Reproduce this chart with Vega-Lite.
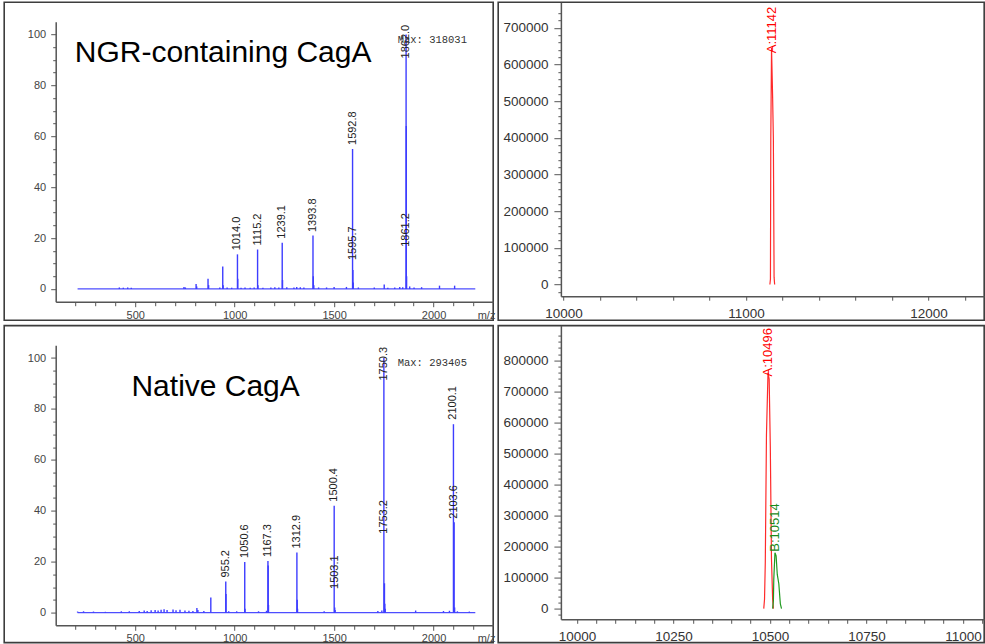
{
  "$schema": "https://vega.github.io/schema/vega-lite/v6.json",
  "background": "white",
  "padding": {"left": 3.2, "top": 1.2, "right": 0, "bottom": 0},
  "config": {
    "view": {"stroke": "#3d3d3d", "strokeWidth": 1.6},
    "axis": {"grid": false, "labelFont": "Liberation Sans", "titleFont": "Liberation Sans", "labelFlush": false, "labelOverlap": false, "domainColor": "#555555", "tickColor": "#555555", "domainWidth": 1.5, "tickWidth": 1},
    "text": {"font": "Liberation Sans"}
  },
  "datasets": {
    "ngr_base": [{"mz": 210, "mz2": 2210, "int": 0}],
    "ngr_peaks": [
      {"mz": 420, "int": 0.6}, {"mz": 440, "int": 0.5}, {"mz": 462, "int": 0.6}, {"mz": 480, "int": 0.5},
      {"mz": 745, "int": 0.8}, {"mz": 752, "int": 0.6}, {"mz": 806, "int": 2}, {"mz": 809, "int": 1},
      {"mz": 866, "int": 4}, {"mz": 869, "int": 1.5}, {"mz": 925, "int": 0.6}, {"mz": 940, "int": 8.8},
      {"mz": 942, "int": 1.5}, {"mz": 962, "int": 0.6}, {"mz": 985, "int": 0.5}, {"mz": 1014.0, "int": 13.6},
      {"mz": 1015.5, "int": 4}, {"mz": 1032, "int": 0.5}, {"mz": 1052, "int": 0.6}, {"mz": 1078, "int": 0.5},
      {"mz": 1098, "int": 0.6}, {"mz": 1115.2, "int": 15.5}, {"mz": 1117, "int": 1.5}, {"mz": 1142, "int": 0.5},
      {"mz": 1182, "int": 0.6}, {"mz": 1202, "int": 0.7}, {"mz": 1222, "int": 0.6}, {"mz": 1239.1, "int": 18.2},
      {"mz": 1240.6, "int": 3.5}, {"mz": 1262, "int": 0.7}, {"mz": 1298, "int": 0.6}, {"mz": 1312, "int": 0.8},
      {"mz": 1330, "int": 0.7}, {"mz": 1348, "int": 0.6}, {"mz": 1393.8, "int": 21}, {"mz": 1395.5, "int": 5},
      {"mz": 1398, "int": 1.5}, {"mz": 1422, "int": 0.6}, {"mz": 1462, "int": 0.6}, {"mz": 1500, "int": 0.8},
      {"mz": 1562, "int": 0.8}, {"mz": 1592.8, "int": 55}, {"mz": 1594.5, "int": 7.5}, {"mz": 1596, "int": 2.5},
      {"mz": 1622, "int": 0.6}, {"mz": 1702, "int": 0.6}, {"mz": 1752, "int": 1.8}, {"mz": 1770, "int": 0.5},
      {"mz": 1805, "int": 0.6}, {"mz": 1830, "int": 0.8}, {"mz": 1845, "int": 0.7}, {"mz": 1862.0, "int": 100},
      {"mz": 1863, "int": 64}, {"mz": 1864.5, "int": 5}, {"mz": 1880, "int": 1}, {"mz": 1902, "int": 0.6},
      {"mz": 1940, "int": 0.7}, {"mz": 2030, "int": 1.3}, {"mz": 2106, "int": 1.3}
    ],
    "ngr_labels": [
      {"mz": 1014.0, "int": 13.6, "text": "1014.0"},
      {"mz": 1115.2, "int": 15.5, "text": "1115.2"},
      {"mz": 1239.1, "int": 18.2, "text": "1239.1"},
      {"mz": 1393.8, "int": 20.8, "text": "1393.8"},
      {"mz": 1592.8, "int": 55, "text": "1592.8"},
      {"mz": 1595.7, "int": 9.8, "text": "1595.7"},
      {"mz": 1862.0, "int": 89, "text": "1862.0"},
      {"mz": 1861.2, "int": 15, "text": "1861.2"}
    ],
    "ngr_title": [{"mz": 196, "int": 89.1, "text": "NGR-containing CagA"}],
    "ngr_max": [{"mz": 1820, "int": 98, "text": "Max: 318031"}],
    "ngr_deconv": [
      {"mz": 11131, "int": 0}, {"mz": 11134, "int": 15000}, {"mz": 11136, "int": 400000},
      {"mz": 11140, "int": 645000}, {"mz": 11146, "int": 510000}, {"mz": 11150, "int": 400000},
      {"mz": 11154, "int": 20000}, {"mz": 11157, "int": 0}
    ],
    "ngr_deconv_labels": [{"mz": 11142, "int": 628000, "text": "A:11142"}],
    "nat_base": [{"mz": 210, "mz2": 2210, "int": 0}],
    "nat_peaks": [
      {"mz": 210, "int": 0.4}, {"mz": 240, "int": 0.5}, {"mz": 290, "int": 0.4}, {"mz": 350, "int": 0.3},
      {"mz": 430, "int": 0.5}, {"mz": 470, "int": 0.5}, {"mz": 520, "int": 0.6}, {"mz": 545, "int": 0.8},
      {"mz": 560, "int": 0.6}, {"mz": 580, "int": 0.9}, {"mz": 600, "int": 1}, {"mz": 615, "int": 0.8},
      {"mz": 630, "int": 1.1}, {"mz": 645, "int": 1.3}, {"mz": 660, "int": 1}, {"mz": 690, "int": 1.2},
      {"mz": 705, "int": 0.9}, {"mz": 725, "int": 1.1}, {"mz": 750, "int": 0.8}, {"mz": 770, "int": 0.7},
      {"mz": 790, "int": 0.6}, {"mz": 810, "int": 1.8}, {"mz": 815, "int": 1}, {"mz": 845, "int": 0.6},
      {"mz": 880, "int": 5.9}, {"mz": 955.2, "int": 12.2}, {"mz": 956.5, "int": 7.3}, {"mz": 970, "int": 0.5},
      {"mz": 1010, "int": 0.5}, {"mz": 1050.6, "int": 19.9}, {"mz": 1052, "int": 1.5}, {"mz": 1120, "int": 0.5},
      {"mz": 1160, "int": 0.7}, {"mz": 1167.3, "int": 20.3}, {"mz": 1168.5, "int": 18.5}, {"mz": 1170, "int": 3},
      {"mz": 1312.9, "int": 23.6}, {"mz": 1314.5, "int": 5}, {"mz": 1316, "int": 1.5}, {"mz": 1450, "int": 0.5},
      {"mz": 1500.4, "int": 42}, {"mz": 1503.1, "int": 2}, {"mz": 1505, "int": 1}, {"mz": 1720, "int": 0.6},
      {"mz": 1740, "int": 0.8}, {"mz": 1750.3, "int": 100}, {"mz": 1753.2, "int": 11.5}, {"mz": 1755, "int": 3.5},
      {"mz": 1757, "int": 1.5}, {"mz": 1910, "int": 0.8}, {"mz": 2050, "int": 0.6}, {"mz": 2080, "int": 0.7},
      {"mz": 2100.1, "int": 74}, {"mz": 2103.6, "int": 35.5}, {"mz": 2106, "int": 2}, {"mz": 2120, "int": 0.5},
      {"mz": 2180, "int": 0.4}
    ],
    "nat_labels": [
      {"mz": 955.2, "int": 12.2, "text": "955.2"},
      {"mz": 1050.6, "int": 19.9, "text": "1050.6"},
      {"mz": 1167.3, "int": 20.3, "text": "1167.3"},
      {"mz": 1312.9, "int": 23.6, "text": "1312.9"},
      {"mz": 1500.4, "int": 42, "text": "1500.4"},
      {"mz": 1503.1, "int": 7.7, "text": "1503.1"},
      {"mz": 1750.3, "int": 89.6, "text": "1750.3"},
      {"mz": 1753.2, "int": 29.4, "text": "1753.2"},
      {"mz": 2100.1, "int": 74.2, "text": "2100.1"},
      {"mz": 2103.6, "int": 35.3, "text": "2103.6"}
    ],
    "nat_title": [{"mz": 481, "int": 84.9, "text": "Native CagA"}],
    "nat_max": [{"mz": 1820, "int": 98, "text": "Max: 293405"}],
    "nat_deconv_a": [
      {"mz": 10484, "int": 0}, {"mz": 10486, "int": 30000}, {"mz": 10488, "int": 150000},
      {"mz": 10491, "int": 560000}, {"mz": 10495, "int": 760000}, {"mz": 10498, "int": 740000},
      {"mz": 10501, "int": 520000}, {"mz": 10504, "int": 160000}, {"mz": 10507, "int": 30000},
      {"mz": 10509, "int": 0}
    ],
    "nat_deconv_b": [
      {"mz": 10507, "int": 0}, {"mz": 10509, "int": 25000}, {"mz": 10510, "int": 95000},
      {"mz": 10513, "int": 180000}, {"mz": 10516, "int": 170000}, {"mz": 10519, "int": 110000},
      {"mz": 10523, "int": 80000}, {"mz": 10527, "int": 15000}, {"mz": 10530, "int": 0}
    ],
    "nat_deconv_a_labels": [{"mz": 10496, "int": 745000, "text": "A:10496"}],
    "nat_deconv_b_labels": [{"mz": 10514, "int": 180000, "text": "B:10514"}]
  },
  "spacing": 3.4,
  "vconcat": [
    {
      "spacing": 5,
      "bounds": "flush",
      "hconcat": [
        {
          "width": 489,
          "height": 318,
          "encoding": {
            "x": {"field": "mz", "type": "quantitative",
              "scale": {"domain": [100, 2300], "range": [51.5, 489], "nice": false, "zero": false},
              "axis": {"values": [200, 300, 400, 500, 600, 700, 800, 900, 1000, 1100, 1200, 1300, 1400, 1500, 1600, 1700, 1800, 1900, 2000, 2100, 2200],
                "labelExpr": "datum.value % 500 === 0 ? datum.label : ''", "format": "d", "offset": -18.5,
                "tickSize": {"condition": {"test": "datum.value % 500 === 0", "value": 5}, "value": 4},
                "labelPadding": 2.5, "labelFontSize": 11, "labelColor": "#444444",
                "title": "m/z", "titleX": 473, "titleY": 7.5, "titleAlign": "left", "titleBaseline": "top", "titleAngle": 0,
                "titleFontSize": 11, "titleFontWeight": "normal", "titleColor": "#444444"}},
            "y": {"field": "int", "type": "quantitative",
              "scale": {"domain": [-5, 105], "range": [299.5, 19.5], "nice": false, "zero": false},
              "axis": {"values": [0, 5, 10, 15, 20, 25, 30, 35, 40, 45, 50, 55, 60, 65, 70, 75, 80, 85, 90, 95, 100],
                "labelExpr": "datum.value % 20 === 0 ? datum.label : ''", "format": "d", "offset": -51.5,
                "tickSize": {"condition": {"test": "datum.value % 20 === 0", "value": 5}, "value": 3},
                "labelPadding": 5, "labelFontSize": 11, "labelColor": "#444444", "title": null}}
          },
          "layer": [
            {"data": {"name": "ngr_base"}, "mark": {"type": "rule", "color": "#4d4dff", "strokeWidth": 1.3}, "encoding": {"x2": {"field": "mz2"}}},
            {"data": {"name": "ngr_peaks"}, "mark": {"type": "rule", "color": "#3d3dff", "strokeWidth": 1.4}, "encoding": {"y2": {"datum": 0}}},
            {"data": {"name": "ngr_labels"}, "mark": {"type": "text", "clip": true, "angle": 270, "align": "left", "baseline": "middle", "dx": 4, "fontSize": 11, "color": "#222222"}, "encoding": {"text": {"field": "text"}}},
            {"data": {"name": "ngr_title"}, "mark": {"type": "text", "clip": true, "align": "left", "baseline": "alphabetic", "fontSize": 30, "color": "#000000"}, "encoding": {"text": {"field": "text"}}},
            {"data": {"name": "ngr_max"}, "mark": {"type": "text", "clip": true, "align": "left", "baseline": "middle", "font": "Liberation Mono", "fontSize": 10.5, "color": "#333333"}, "encoding": {"text": {"field": "text"}}}
          ]
        },
        {
          "width": 486,
          "height": 318,
          "encoding": {
            "x": {"field": "mz", "type": "quantitative",
              "scale": {"domain": [9986, 12305], "range": [62.7, 486], "nice": false, "zero": false},
              "axis": {"values": [10000, 10200, 10400, 10600, 10800, 11000, 11200, 11400, 11600, 11800, 12000, 12200],
                "labelExpr": "datum.value % 1000 === 0 ? datum.label : ''", "format": "d", "offset": -24,
                "tickSize": 4, "labelPadding": 6.5, "labelFontSize": 13.5, "labelColor": "#333333", "title": null}},
            "y": {"field": "int", "type": "quantitative",
              "scale": {"domain": [-32000, 770000], "range": [294, 0], "nice": false, "zero": false},
              "axis": {"values": [-20000, 0, 20000, 40000, 60000, 80000, 100000, 120000, 140000, 160000, 180000, 200000, 220000, 240000, 260000, 280000, 300000, 320000, 340000, 360000, 380000, 400000, 420000, 440000, 460000, 480000, 500000, 520000, 540000, 560000, 580000, 600000, 620000, 640000, 660000, 680000, 700000, 720000, 740000],
                "labelExpr": "datum.value % 100000 === 0 ? datum.label : ''", "format": "d", "offset": -62.7,
                "tickSize": {"condition": {"test": "datum.value % 100000 === 0", "value": 7}, "value": 3},
                "labelPadding": 6, "labelFontSize": 13.5, "labelColor": "#333333", "title": null}}
          },
          "layer": [
            {"data": {"name": "ngr_deconv"}, "mark": {"type": "line", "clip": true, "color": "#ff2a2a", "strokeWidth": 1.2}},
            {"data": {"name": "ngr_deconv_labels"}, "mark": {"type": "text", "clip": true, "angle": 270, "align": "left", "baseline": "middle", "dx": 1, "fontSize": 13, "color": "#ff0000"}, "encoding": {"text": {"field": "text"}}}
          ]
        }
      ]
    },
    {
      "spacing": 5,
      "bounds": "flush",
      "hconcat": [
        {
          "width": 489,
          "height": 317,
          "encoding": {
            "x": {"field": "mz", "type": "quantitative",
              "scale": {"domain": [100, 2300], "range": [51.5, 489], "nice": false, "zero": false},
              "axis": {"values": [200, 300, 400, 500, 600, 700, 800, 900, 1000, 1100, 1200, 1300, 1400, 1500, 1600, 1700, 1800, 1900, 2000, 2100, 2200],
                "labelExpr": "datum.value % 500 === 0 ? datum.label : ''", "format": "d", "offset": -17.3,
                "tickSize": {"condition": {"test": "datum.value % 500 === 0", "value": 5}, "value": 4},
                "labelPadding": 2.5, "labelFontSize": 11, "labelColor": "#444444",
                "title": "m/z", "titleX": 473, "titleY": 7.5, "titleAlign": "left", "titleBaseline": "top", "titleAngle": 0,
                "titleFontSize": 11, "titleFontWeight": "normal", "titleColor": "#444444"}},
            "y": {"field": "int", "type": "quantitative",
              "scale": {"domain": [-5, 105], "range": [299.7, 19.7], "nice": false, "zero": false},
              "axis": {"values": [0, 5, 10, 15, 20, 25, 30, 35, 40, 45, 50, 55, 60, 65, 70, 75, 80, 85, 90, 95, 100],
                "labelExpr": "datum.value % 20 === 0 ? datum.label : ''", "format": "d", "offset": -51.5,
                "tickSize": {"condition": {"test": "datum.value % 20 === 0", "value": 5}, "value": 3},
                "labelPadding": 5, "labelFontSize": 11, "labelColor": "#444444", "title": null}}
          },
          "layer": [
            {"data": {"name": "nat_base"}, "mark": {"type": "rule", "color": "#4d4dff", "strokeWidth": 1.3}, "encoding": {"x2": {"field": "mz2"}}},
            {"data": {"name": "nat_peaks"}, "mark": {"type": "rule", "color": "#3d3dff", "strokeWidth": 1.4}, "encoding": {"y2": {"datum": 0}}},
            {"data": {"name": "nat_labels"}, "mark": {"type": "text", "clip": true, "angle": 270, "align": "left", "baseline": "middle", "dx": 4, "fontSize": 11, "color": "#222222"}, "encoding": {"text": {"field": "text"}}},
            {"data": {"name": "nat_title"}, "mark": {"type": "text", "clip": true, "align": "left", "baseline": "alphabetic", "fontSize": 30, "color": "#000000"}, "encoding": {"text": {"field": "text"}}},
            {"data": {"name": "nat_max"}, "mark": {"type": "text", "clip": true, "align": "left", "baseline": "middle", "font": "Liberation Mono", "fontSize": 10.5, "color": "#333333"}, "encoding": {"text": {"field": "text"}}}
          ]
        },
        {
          "width": 486,
          "height": 317,
          "encoding": {
            "x": {"field": "mz", "type": "quantitative",
              "scale": {"domain": [9958.5, 11055], "range": [62.7, 486], "nice": false, "zero": false},
              "axis": {"values": [10000, 10050, 10100, 10150, 10200, 10250, 10300, 10350, 10400, 10450, 10500, 10550, 10600, 10650, 10700, 10750, 10800, 10850, 10900, 10950, 11000, 11050],
                "labelExpr": "datum.value % 250 === 0 ? datum.label : ''", "format": "d", "offset": -23.3,
                "tickSize": 4, "labelPadding": 6.5, "labelFontSize": 13.5, "labelColor": "#333333", "title": null}},
            "y": {"field": "int", "type": "quantitative",
              "scale": {"domain": [-34500, 912000], "range": [293.7, 0], "nice": false, "zero": false},
              "axis": {"values": [-20000, 0, 20000, 40000, 60000, 80000, 100000, 120000, 140000, 160000, 180000, 200000, 220000, 240000, 260000, 280000, 300000, 320000, 340000, 360000, 380000, 400000, 420000, 440000, 460000, 480000, 500000, 520000, 540000, 560000, 580000, 600000, 620000, 640000, 660000, 680000, 700000, 720000, 740000, 760000, 780000, 800000, 820000, 840000, 860000, 880000],
                "labelExpr": "datum.value % 100000 === 0 ? datum.label : ''", "format": "d", "offset": -62.7,
                "tickSize": {"condition": {"test": "datum.value % 100000 === 0", "value": 7}, "value": 3},
                "labelPadding": 6, "labelFontSize": 13.5, "labelColor": "#333333", "title": null}}
          },
          "layer": [
            {"data": {"name": "nat_deconv_a"}, "mark": {"type": "line", "clip": true, "color": "#ff2a2a", "strokeWidth": 1.2}},
            {"data": {"name": "nat_deconv_b"}, "mark": {"type": "line", "clip": true, "color": "#1f9a1f", "strokeWidth": 1.2}},
            {"data": {"name": "nat_deconv_a_labels"}, "mark": {"type": "text", "clip": true, "angle": 270, "align": "left", "baseline": "middle", "dx": 1, "fontSize": 13, "color": "#ff0000"}, "encoding": {"text": {"field": "text"}}},
            {"data": {"name": "nat_deconv_b_labels"}, "mark": {"type": "text", "clip": true, "angle": 270, "align": "left", "baseline": "middle", "dx": 1, "fontSize": 13, "color": "#1a8a1a"}, "encoding": {"text": {"field": "text"}}}
          ]
        }
      ]
    }
  ]
}
